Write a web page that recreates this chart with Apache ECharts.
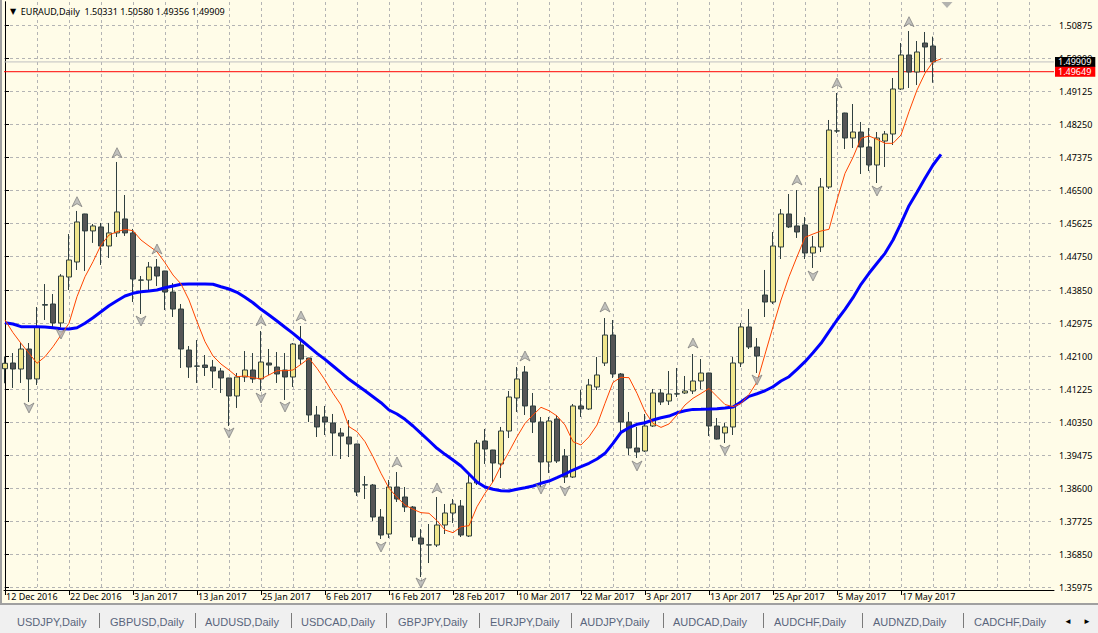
<!DOCTYPE html>
<html>
<head>
<meta charset="utf-8">
<script src="https://cdn.jsdelivr.net/npm/echarts@6/dist/echarts.min.js"></script>
<style>
  html, body { margin: 0; padding: 0; background: #fffce8; overflow: hidden; }
  #wrap { position: relative; width: 1098px; height: 633px; }
  #chart { position: absolute; left: 0; top: 0; width: 1098px; height: 603px; }
  #leftEdge { position: absolute; left: 0; top: 0; width: 2px; height: 633px; background: #a0a0a0; }
  #tabs { position: absolute; left: 0; top: 603px; width: 1098px; height: 30px; background: #f0f0f0;
          border-top: 2px solid #a0a0a0; box-sizing: border-box;
          font-family: "Liberation Sans", Arial, sans-serif; font-size: 11px; color: #59657c; }
  #tabs span { position: absolute; top: 11px; white-space: nowrap; }
  #tabs .sep { position: absolute; top: 8px; width: 1px; height: 15px; background: #7a7a7a; }
</style>
</head>
<body>
<div id="wrap">
  <div id="chart"></div>
  <div id="leftEdge"></div>
  <div id="tabs"></div>
</div>
<script>
// ---------- DATA ----------
const symbolName = "EURAUD,Daily";
const dateLabels = ["12 Dec 2016","22 Dec 2016","3 Jan 2017","13 Jan 2017","25 Jan 2017","6 Feb 2017","16 Feb 2017","28 Feb 2017","10 Mar 2017","22 Mar 2017","3 Apr 2017","13 Apr 2017","25 Apr 2017","5 May 2017","17 May 2017"];
const priceTicks = [1.50875,1.50000,1.49125,1.48250,1.47375,1.46500,1.45625,1.44750,1.43850,1.42975,1.42100,1.41225,1.40350,1.39475,1.38600,1.37725,1.36850,1.35975];

const open = [1.41768,1.41920,1.41760,1.42291,1.41496,1.43470,1.43485,1.42982,1.44201,1.44600,
1.45874,1.45424,1.45530,1.45024,1.45371,1.45742,1.45371,1.44122,1.44122,1.44467,
1.44361,1.43803,1.43352,1.42264,1.41840,1.41866,1.41813,1.41707,1.41522,1.41044,
1.41548,1.41734,1.41496,1.41920,1.41813,1.41734,1.41548,1.42397,1.42052,1.40540,
1.40487,1.40328,1.40062,1.39956,1.39770,1.38688,1.38682,1.37833,1.37382,1.38629,
1.38364,1.38098,1.37275,1.37090,1.37090,1.37621,1.37939,1.38125,1.37329,1.38735,
1.39849,1.39611,1.39240,1.40115,1.40991,1.41681,1.40779,1.40355,1.39293,1.40434,
1.39452,1.38894,1.40779,1.40699,1.41283,1.41920,1.42662,1.41628,1.40355,1.39664,
1.39584,1.40248,1.41124,1.40911,1.41097,1.41124,1.41177,1.41442,1.41654,1.40248,
1.40062,1.40222,1.41920,1.42876,1.42344,1.43724,1.43538,1.44998,1.45874,1.45556,
1.45583,1.44838,1.44998,1.46590,1.48076,1.48553,1.47890,1.48049,1.47651,1.47174,
1.47810,1.47996,1.49190,1.50093,1.49641,1.50411,1.50331];
const high = [1.42086,1.42184,1.42450,1.42450,1.43406,1.44015,1.43750,1.44280,1.45342,1.45954,
1.45880,1.45609,1.45636,1.45636,1.47254,1.46378,1.45477,1.44228,1.44600,1.44679,
1.44365,1.44042,1.43485,1.42370,1.42529,1.42131,1.42000,1.41787,1.41525,1.41654,
1.42237,1.42184,1.42768,1.42291,1.42211,1.42184,1.42450,1.42901,1.42055,1.40779,
1.40779,1.40567,1.40195,1.40407,1.39775,1.38921,1.38709,1.38045,1.38815,1.39027,
1.38629,1.38125,1.37514,1.37647,1.38364,1.38178,1.38311,1.38284,1.39001,1.39876,
1.40169,1.39615,1.40222,1.41177,1.41813,1.41840,1.41124,1.40487,1.40487,1.40540,
1.39637,1.40832,1.41203,1.41496,1.42078,1.43113,1.43060,1.41654,1.40620,1.40222,
1.40567,1.41230,1.41230,1.41707,1.41787,1.41575,1.42158,1.42025,1.41660,1.40460,
1.40328,1.42078,1.42982,1.43352,1.42582,1.44388,1.45396,1.46006,1.46404,1.46510,
1.45794,1.45290,1.46829,1.48368,1.49084,1.48560,1.48792,1.48315,1.48156,1.48049,
1.48076,1.49482,1.50411,1.50729,1.50464,1.50703,1.50580];
const low = [1.41382,1.41257,1.41390,1.40885,1.41337,1.43061,1.42876,1.42876,1.43856,1.44388,
1.44361,1.45106,1.44521,1.44706,1.45263,1.45291,1.43538,1.43220,1.43830,1.43962,
1.43326,1.43140,1.41787,1.41522,1.41390,1.41575,1.41257,1.41124,1.40249,1.40726,
1.41416,1.41390,1.41177,1.41602,1.41390,1.40938,1.41283,1.41866,1.40355,1.39956,
1.40009,1.39452,1.39372,1.39425,1.38390,1.38311,1.37727,1.37249,1.37275,1.38231,
1.37966,1.37196,1.36240,1.36612,1.37037,1.37382,1.37674,1.37302,1.37302,1.38682,
1.39240,1.38735,1.38868,1.39929,1.40620,1.40540,1.40062,1.38629,1.39001,1.39266,
1.38735,1.38868,1.40487,1.40673,1.41203,1.41840,1.41522,1.40089,1.39478,1.39399,
1.39558,1.40222,1.40805,1.40805,1.41017,1.41097,1.41097,1.41230,1.39982,1.39889,
1.39796,1.40009,1.41813,1.42291,1.41654,1.43140,1.43485,1.44679,1.45502,1.45237,
1.44679,1.44441,1.44865,1.46537,1.48023,1.47598,1.47625,1.46935,1.47014,1.46696,
1.47121,1.47704,1.49164,1.49217,1.49296,1.49641,1.49356];
const close = [1.41912,1.41760,1.42291,1.41496,1.42876,1.43455,1.42982,1.44227,1.44653,1.45662,
1.45424,1.45556,1.45024,1.45371,1.45927,1.45371,1.44148,1.44118,1.44467,1.44228,
1.43803,1.43352,1.42291,1.41813,1.41835,1.41800,1.41707,1.41522,1.41044,1.41548,
1.41734,1.41496,1.41946,1.41866,1.41628,1.41548,1.42423,1.42025,1.40540,1.40222,
1.40355,1.40062,1.39982,1.39770,1.38496,1.38682,1.37833,1.37355,1.38629,1.38311,
1.38098,1.37302,1.37116,1.37095,1.37621,1.37939,1.38178,1.37355,1.38735,1.39796,
1.39637,1.39266,1.40115,1.41017,1.41496,1.40779,1.40355,1.39293,1.40381,1.39319,
1.38894,1.40779,1.40699,1.41336,1.41602,1.42662,1.41628,1.40355,1.39664,1.39558,
1.40248,1.41124,1.40885,1.41097,1.41102,1.41177,1.41442,1.41654,1.40248,1.39902,
1.40222,1.41920,1.42876,1.42344,1.42105,1.43538,1.45024,1.45874,1.45530,1.45396,
1.44838,1.44998,1.46590,1.48102,1.48080,1.47890,1.48049,1.47651,1.47174,1.47890,
1.47996,1.49190,1.50093,1.49641,1.50172,1.50305,1.49909];

// slow moving average (blue), one value per bar plus one shifted bar
const maSlow = [1.42989,1.42954,1.42883,1.42883,1.42883,1.42875,1.42856,1.42830,1.42822,1.42856,
1.42973,1.43121,1.43281,1.43440,1.43572,1.43697,1.43769,1.43811,1.43830,1.43856,
1.43917,1.43963,1.44008,1.44016,1.44016,1.44016,1.44008,1.43944,1.43883,1.43795,
1.43663,1.43519,1.43344,1.43193,1.43034,1.42867,1.42707,1.42530,1.42352,1.42176,
1.42017,1.41840,1.41662,1.41487,1.41336,1.41184,1.41025,1.40866,1.40672,1.40567,
1.40425,1.40248,1.40054,1.39857,1.39656,1.39496,1.39345,1.39186,1.38974,1.38761,
1.38629,1.38568,1.38531,1.38523,1.38568,1.38611,1.38656,1.38727,1.38788,1.38876,
1.38974,1.39080,1.39168,1.39258,1.39372,1.39523,1.39788,1.40080,1.40202,1.40292,
1.40334,1.40406,1.40467,1.40512,1.40599,1.40652,1.40689,1.40692,1.40697,1.40705,
1.40724,1.40750,1.40883,1.41035,1.41104,1.41184,1.41290,1.41442,1.41556,1.41752,
1.41954,1.42193,1.42442,1.42751,1.43061,1.43345,1.43652,1.44008,1.44300,1.44565,
1.44830,1.45184,1.45627,1.46094,1.46449,1.46821,1.47174,1.47458];
// fast moving average (red)
const maFast = [1.43061,1.42724,1.42442,1.42177,1.41912,1.42087,1.42352,1.42662,1.42973,1.43679,
1.44209,1.44607,1.45051,1.45315,1.45403,1.45467,1.45429,1.45183,1.45024,1.44873,
1.44581,1.44254,1.44016,1.43591,1.43016,1.42485,1.42105,1.41892,1.41734,1.41556,
1.41575,1.41530,1.41496,1.41602,1.41715,1.41715,1.41734,1.41885,1.42044,1.41779,
1.41469,1.41116,1.40805,1.40230,1.40097,1.39832,1.39434,1.38993,1.38595,1.38356,
1.38152,1.38038,1.37948,1.37932,1.37736,1.37488,1.37417,1.37576,1.37602,1.38106,
1.38461,1.38769,1.39193,1.39564,1.39962,1.40317,1.40540,1.40744,1.40654,1.40514,
1.40275,1.39832,1.39744,1.39962,1.40275,1.40850,1.41407,1.41540,1.41530,1.41116,
1.40628,1.40317,1.40211,1.40302,1.40540,1.40805,1.40983,1.41110,1.41243,1.41031,
1.40818,1.40760,1.40845,1.41083,1.41416,1.42150,1.42883,1.43591,1.44209,1.44739,
1.45254,1.45342,1.45422,1.45467,1.46245,1.46952,1.47377,1.47882,1.47943,1.47855,
1.47749,1.47749,1.47970,1.48589,1.49164,1.49607,1.49915,1.49986];

// fractals (bar index, price of arrow)
const fractalUpIdx   = [9, 14, 19, 32, 37, 49, 54, 65, 75, 86, 99, 104, 113];
const fractalUpPrice = [1.46200,1.47500,1.44944,1.43042,1.43166,1.39293,1.38603,1.42105,1.43406,1.42450,1.46776,1.49350,1.50976];
const fractalDnIdx   = [3, 7, 17, 28, 32, 35, 47, 52, 67, 70, 79, 90, 94, 101, 109];
const fractalDnPrice = [1.40726,1.42689,1.43034,1.40063,1.40990,1.40752,1.37037,1.36082,1.38576,1.38523,1.39187,1.39611,1.41469,1.44228,1.46484];

const redLevel = 1.49649;
const tabNames = ["USDJPY,Daily","GBPUSD,Daily","AUDUSD,Daily","USDCAD,Daily","GBPJPY,Daily","EURJPY,Daily","AUDJPY,Daily","AUDCAD,Daily","AUDCHF,Daily","AUDNZD,Daily","CADCHF,Daily"];

// ---------- BUILD ----------
const n = open.length;
const candles = open.map((o, i) => [i, o, close[i], low[i], high[i]]);
const slowPts = maSlow.map((v, i) => [i, v]);
const fastPts = maFast.map((v, i) => [i, v]);
const upPts = fractalUpIdx.map((ix, k) => [ix, fractalUpPrice[k]]);
const dnPts = fractalDnIdx.map((ix, k) => [ix, fractalDnPrice[k]]);
const labelIdx = dateLabels.map((d, k) => k * 8);
const gridIdx = [];
for (let i = 0; i <= 131; i += 4) gridIdx.push(i);

const X_MIN = -0.125, X_MAX = 131.125;
const Y_MIN = 1.35896, Y_MAX = 1.51499;
const FONT = '"Noto Sans", "Liberation Sans", Arial, sans-serif';
const last = n - 1;

function priceLineSeries(value, lineColor, boxColor) {
  return {
    type: 'line', xAxisIndex: 0, yAxisIndex: 0, z: 2, silent: true,
    data: [[X_MIN, value], [X_MAX, value]],
    showSymbol: false, symbol: 'none', color: lineColor,
    lineStyle: { color: lineColor, width: 1, type: 'solid' },
    endLabel: { show: true, distance: 1, fontFamily: FONT, fontSize: 9,
                padding: [1, 4, 0, 3], lineHeight: 9, color: '#fff', backgroundColor: boxColor,
                formatter: () => value.toFixed(5) }
  };
}

const chart = echarts.init(document.getElementById('chart'), null, { renderer: 'svg' });
chart.setOption({
  animation: false,
  backgroundColor: '#fffce8',
  title: {
    left: 5, top: 2,
    text: '{tri|▼}  ' + symbolName + '  ' + [open[last], high[last], low[last], close[last]].map(v => v.toFixed(5)).join(' '),
    textStyle: {
      fontFamily: FONT, fontSize: 9, fontWeight: 'normal', color: '#000',
      rich: { tri: { fontSize: 8, color: '#000', fontFamily: 'DejaVu Sans' } }
    }
  },
  grid: { left: 4, top: 2, right: 44, bottom: 13, containLabel: false },
  xAxis: [{
    type: 'value', min: X_MIN, max: X_MAX, position: 'bottom',
    axisLine: { show: true, onZero: false, lineStyle: { color: '#000', width: 1 } },
    axisTick: { show: true, customValues: labelIdx, length: 5, lineStyle: { color: '#000' } },
    axisLabel: { show: true, customValues: labelIdx, align: 'left', margin: 2, padding: [0,0,0,1],
                 fontFamily: FONT, fontSize: 9, color: '#000',
                 formatter: v => dateLabels[Math.round(v / 8)] || '' },
    splitLine: { show: false }
  }, {
    type: 'value', min: X_MIN, max: X_MAX, position: 'bottom',
    axisLine: { show: false },
    axisTick: { show: false, customValues: gridIdx },
    axisLabel: { show: false, customValues: gridIdx },
    splitLine: { show: true, lineStyle: { color: '#b4b4b4', type: [3, 3], width: 1 } }
  }],
  yAxis: [{
    type: 'value', position: 'right', min: Y_MIN, max: Y_MAX, scale: true,
    axisLine: { show: true, lineStyle: { color: '#000', width: 1 } },
    axisTick: { show: true, customValues: priceTicks, length: 4, lineStyle: { color: '#000' } },
    axisLabel: { show: true, customValues: priceTicks, margin: 5, fontFamily: FONT, fontSize: 9, color: '#000',
                 formatter: v => v.toFixed(5) },
    splitLine: { show: true, lineStyle: { color: '#b4b4b4', type: [3, 3], width: 1 } }
  }, {
    type: 'value', position: 'left', min: Y_MIN, max: Y_MAX, scale: true,
    axisLine: { show: true, lineStyle: { color: '#000', width: 1 } },
    axisTick: { show: false }, axisLabel: { show: false }, splitLine: { show: false }
  }],
  series: [
    priceLineSeries(close[last], '#c0c0c0', '#000000'),
    priceLineSeries(redLevel, '#ff0000', '#ff0000'),
  {
    type: 'candlestick',
    xAxisIndex: 0, yAxisIndex: 0,
    data: candles,
    encode: { x: 0, y: [1, 2, 3, 4] },
    barWidth: 5,
    itemStyle: { color: '#f0e68c', color0: '#555555', borderColor: '#2f3f3f', borderColor0: '#2f3f3f', borderWidth: 1 },
    z: 3
  }, {
    type: 'line', data: slowPts, xAxisIndex: 0, yAxisIndex: 0,
    showSymbol: false, symbol: 'none', lineStyle: { color: '#0000ff', width: 3 }, z: 4, silent: true
  }, {
    type: 'line', data: fastPts, xAxisIndex: 0, yAxisIndex: 0,
    showSymbol: false, symbol: 'none', lineStyle: { color: '#ff4500', width: 1 }, z: 5, silent: true
  }, {
    type: 'scatter', data: upPts, xAxisIndex: 0, yAxisIndex: 0,
    symbol: 'path://M5,0 L10,10 L5,7 L0,10 Z', symbolSize: [10, 10],
    itemStyle: { color: '#b0b0b0', borderColor: '#707070', borderWidth: 0.8 }, z: 6, silent: true
  }, {
    type: 'scatter', data: dnPts, xAxisIndex: 0, yAxisIndex: 0,
    symbol: 'path://M0,0 L5,3 L10,0 L5,10 Z', symbolSize: [10, 10],
    itemStyle: { color: '#b0b0b0', borderColor: '#707070', borderWidth: 0.8 }, z: 6, silent: true
  }, {
    type: 'scatter', data: [[n + 0.75, Y_MAX]], xAxisIndex: 0, yAxisIndex: 0,
    symbol: 'path://M0,0 L10,0 L5,6 Z', symbolSize: [11, 6], symbolOffset: [0, 3],
    itemStyle: { color: '#a0a0a0' }, z: 6, silent: true, clip: false
  }]
});

// ---------- TAB BAR ----------
const tabs = document.getElementById('tabs');
const tabX = [17, 110, 205, 301, 398, 490, 580, 673, 774, 873, 974];
const sepX = [99, 195, 291, 386, 479, 571, 663, 763, 862, 963];
tabNames.forEach((t, k) => {
  const s = document.createElement('span');
  s.textContent = t; s.style.left = tabX[k] + 'px';
  tabs.appendChild(s);
});
sepX.forEach(x => {
  const d = document.createElement('div');
  d.className = 'sep'; d.style.left = x + 'px';
  tabs.appendChild(d);
});
['◄', '►'].forEach((t, k) => {
  const s = document.createElement('span');
  s.textContent = t; s.style.left = (1064 + k * 19) + 'px'; s.style.color = '#000'; s.style.fontSize = '8px'; s.style.top = '12px';
  tabs.appendChild(s);
});
</script>
</body>
</html>
